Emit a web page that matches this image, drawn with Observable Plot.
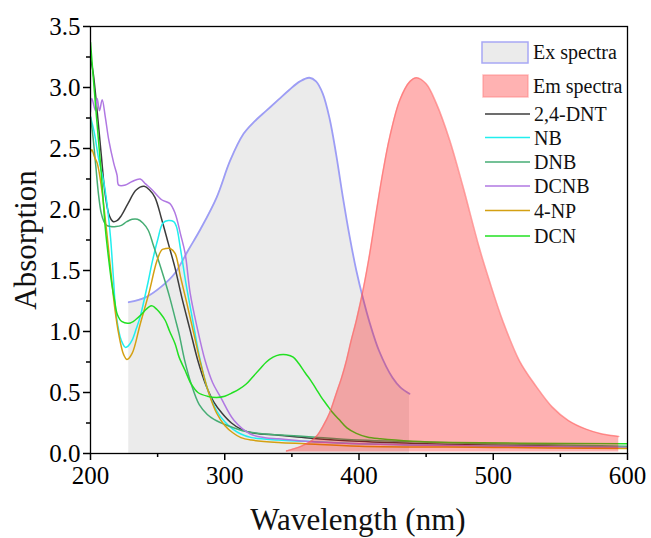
<!DOCTYPE html>
<html>
<head>
<meta charset="utf-8">
<script src="https://cdn.jsdelivr.net/npm/d3@7"></script>
<script src="https://cdn.jsdelivr.net/npm/@observablehq/plot@0.6"></script>
<style>
  html, body { margin: 0; padding: 0; background: white; }
  #chart { width: 651px; height: 538px; }
  #chart svg text { font-family: 'Liberation Serif', 'Times New Roman', serif !important; }
</style>
</head>
<body>
<div id="chart"></div>
<script>
// ---------- data ----------
const seriesNames = ["2,4-DNT", "NB", "DNB", "DCNB", "4-NP", "DCN"];
const seriesColors = ["#3c3c3c", "#22eeee", "#46ad74", "#b078e2", "#d4a012", "#22e022"];

const dntWl  = [200,202,205,208,211,214,217,220,223,228,234,240,244,248,253,258,263,268,274,280,286,292,298,305,312,320,340,360,400,450,500,600];
const dntAbs = [3.24,3.12,2.80,2.45,2.12,1.95,1.90,1.91,1.95,2.05,2.16,2.19,2.16,2.10,1.92,1.72,1.52,1.28,1.02,0.76,0.56,0.42,0.33,0.25,0.20,0.17,0.15,0.13,0.10,0.08,0.07,0.05];

const nbWl  = [200,203,206,210,213,215,217,219,222,224,226,228,231,234,237,240,243,246,250,254,258,262,264,267,271,276,282,288,294,300,306,312,320,340,360,400,500,600];
const nbAbs = [2.76,2.62,2.42,2.22,1.98,1.76,1.45,1.15,0.96,0.90,0.87,0.88,0.93,1.02,1.12,1.26,1.41,1.57,1.75,1.89,1.91,1.90,1.86,1.68,1.40,1.10,0.75,0.50,0.35,0.26,0.20,0.16,0.13,0.11,0.10,0.08,0.06,0.05];

const dnbWl  = [200,202,204,206,208,210,212,215,219,223,227,231,235,239,243,247,251,255,259,263,266,270,275,281,287,292,302,316,330,360,400,500,600];
const dnbAbs = [2.76,2.58,2.35,2.12,1.97,1.90,1.87,1.86,1.86,1.87,1.90,1.92,1.92,1.89,1.83,1.70,1.57,1.43,1.28,1.11,0.98,0.77,0.57,0.40,0.32,0.28,0.23,0.18,0.16,0.14,0.11,0.08,0.06];

const dcnbWl  = [200,201,203.7,205,206.7,208.7,211,213.6,217.3,219.8,221,226,231,237,241,246,253,259,263,267,270.5,274.3,279.3,285.4,291,297,307,319,330,340,360,400,500,600];
const dcnbAbs = [2.80,2.91,2.81,2.91,2.81,2.90,2.76,2.57,2.38,2.28,2.20,2.20,2.23,2.25,2.21,2.16,2.08,2.05,1.97,1.80,1.64,1.31,1.04,0.76,0.58,0.46,0.27,0.16,0.13,0.12,0.10,0.08,0.06,0.05];

const npWl  = [200,201,203,205,207.4,210,213,216,218,221,224.7,227.2,231,237,243.4,249.5,253.2,256,259.4,263,267,272,277,282,288,294,300,306,312,320,340,360,400,500,600];
const npAbs = [2.47,2.49,2.43,2.38,2.24,2.02,1.72,1.40,1.20,0.98,0.81,0.77,0.82,1.06,1.31,1.58,1.67,1.68,1.68,1.64,1.45,1.22,0.98,0.74,0.50,0.33,0.23,0.17,0.13,0.11,0.09,0.08,0.06,0.05,0.04];

const dcnWl  = [200,204,208,211,214,216,218,220,223.5,229.7,236,243.3,246,249.5,252,255.7,259,263,266,270.5,275,280,287,294,300,306,311,316,321,326,331,336,341,346,351,355,360,364,368,372,376,380,385,391,398,406,416,440,470,520,600];
const dcnAbs = [3.37,2.82,2.30,1.85,1.55,1.38,1.25,1.14,1.08,1.07,1.12,1.20,1.21,1.18,1.15,1.09,1.00,0.90,0.79,0.68,0.57,0.50,0.47,0.46,0.47,0.50,0.53,0.57,0.63,0.69,0.75,0.79,0.81,0.81,0.79,0.74,0.66,0.60,0.53,0.46,0.40,0.34,0.28,0.21,0.165,0.135,0.12,0.10,0.09,0.085,0.08];

const exWl  = [228.5,241,253,263,273,282,294,304,314,322,331,340,348,356,363,368,373,378,383,388,393,398,403,408,415,425,431,437.6];
const exVal = [1.24,1.28,1.37,1.48,1.67,1.84,2.10,2.40,2.62,2.72,2.81,2.90,2.98,3.05,3.08,3.05,2.95,2.75,2.45,2.10,1.78,1.50,1.27,1.07,0.84,0.62,0.54,0.49];

const emWl  = [346,352,358,364,369,373,378,383,387,390.6,394,398,403,408,413,418,423,430.5,438,443,450,457.6,467.5,477.4,489.5,497,507,519.5,532,544,556,569,581,593.5];
const emVal = [0.02,0.04,0.065,0.10,0.15,0.22,0.33,0.49,0.62,0.76,0.92,1.09,1.34,1.64,1.99,2.32,2.60,2.90,3.05,3.08,3.03,2.87,2.57,2.19,1.69,1.42,1.09,0.76,0.55,0.38,0.27,0.20,0.16,0.14];

const xMajor = [200, 300, 400, 500, 600];
const xMinor = [250, 350, 450, 550];
const yMajor = [0, 0.5, 1.0, 1.5, 2.0, 2.5, 3.0, 3.5];
const yMinor = [0.25, 0.75, 1.25, 1.75, 2.25, 2.75, 3.25];

// ---------- build tables ----------
const seriesData = [
  [dntWl, dntAbs], [nbWl, nbAbs], [dnbWl, dnbAbs],
  [dcnbWl, dcnbAbs], [npWl, npAbs], [dcnWl, dcnAbs]
];
const absRows = [];
seriesData.forEach(([wl, ab], i) => {
  wl.forEach((w, j) => absRows.push({series: seriesNames[i], wl: w, abs: ab[j]}));
});
const exRows = exWl.map((w, i) => ({wl: w, v: exVal[i]}));
const emRows = emWl.map((w, i) => ({wl: w, v: emVal[i]}));

const serif = "'Liberation Serif', 'Times New Roman', serif";

const chart = Plot.plot({
  width: 651,
  height: 538,
  marginLeft: 90,
  marginRight: 24,
  marginTop: 26,
  marginBottom: 85,
  style: {fontFamily: serif, fontSize: "24px", background: "white", color: "black", overflow: "visible"},
  x: {domain: [200, 600], axis: null},
  y: {domain: [0, 3.5], axis: null},
  color: {domain: seriesNames, range: seriesColors},
  marks: [
    Plot.areaY(exRows, {x: "wl", y: "v", fill: "#ebebeb", curve: "catmull-rom"}),
    Plot.line(exRows, {x: "wl", y: "v", stroke: "#9d9df5", strokeWidth: 1.8, curve: "catmull-rom"}),
    Plot.line(absRows, {x: "wl", y: "abs", z: "series", stroke: "series", strokeWidth: 1.5, curve: "catmull-rom", clip: true}),
    Plot.areaY(emRows, {x: "wl", y1: 0.012, y2: "v", fill: "#ff0000", fillOpacity: 0.3, curve: "catmull-rom"}),
    Plot.line(emRows, {x: "wl", y: "v", stroke: "#ff6060", strokeOpacity: 0.6, strokeWidth: 1.5, curve: "catmull-rom"}),
    Plot.frame({stroke: "black", strokeWidth: 1.3}),
    Plot.axisX({ticks: xMajor, tickSize: 7, tickPadding: 6, strokeWidth: 1.5, fontSize: 25, fontFamily: serif, label: null, tickFormat: d => String(d)}),
    Plot.axisX({ticks: xMinor, tickSize: 4, strokeWidth: 1.5, label: null, tickFormat: () => ""}),
    Plot.axisY({ticks: yMajor, tickSize: 7, tickPadding: 3, strokeWidth: 1.5, fontSize: 25, fontFamily: serif, label: null, tickFormat: d3.format(".1f")}),
    Plot.axisY({ticks: yMinor, tickSize: 4, strokeWidth: 1.5, label: null, tickFormat: () => ""})
  ]
});

document.getElementById("chart").appendChild(chart);

// ---------- axis titles and legend ----------
const svg = d3.select(chart);
svg.append("text")
  .attr("x", 358).attr("y", 530)
  .attr("text-anchor", "middle")
  .attr("font-family", serif).attr("font-size", 31).attr("fill", "#111")
  .text("Wavelength (nm)");
svg.append("text")
  .attr("transform", "translate(36,240) rotate(-90)")
  .attr("text-anchor", "middle")
  .attr("font-family", serif).attr("font-size", 31).attr("fill", "#111")
  .text("Absorption");

const lg = svg.append("g").attr("font-family", serif).attr("font-size", 20)
  .attr("fill", "#111").attr("text-anchor", "start");
lg.append("rect").attr("x", 482).attr("y", 42).attr("width", 46).attr("height", 21)
  .attr("fill", "#ebebeb").attr("stroke", "#a8a8f5").attr("stroke-width", 1.5);
lg.append("text").attr("x", 533).attr("y", 59).attr("text-anchor", "start").text("Ex spectra");
lg.append("rect").attr("x", 483).attr("y", 75).attr("width", 45).attr("height", 22)
  .attr("fill", "#ff0000").attr("fill-opacity", 0.3).attr("stroke", "#ff8080").attr("stroke-opacity", 0.5).attr("stroke-width", 1.5);
lg.append("text").attr("x", 533).attr("y", 93).attr("text-anchor", "start").text("Em spectra");
const rowY = [114, 137.5, 162, 186, 210.5, 236];
seriesNames.forEach((name, i) => {
  lg.append("line").attr("x1", 485).attr("x2", 530).attr("y1", rowY[i]).attr("y2", rowY[i])
    .attr("stroke", seriesColors[i]).attr("stroke-width", 1.5);
  lg.append("text").attr("x", 534).attr("y", rowY[i] + 7).attr("text-anchor", "start").text(name);
});
</script>
</body>
</html>
